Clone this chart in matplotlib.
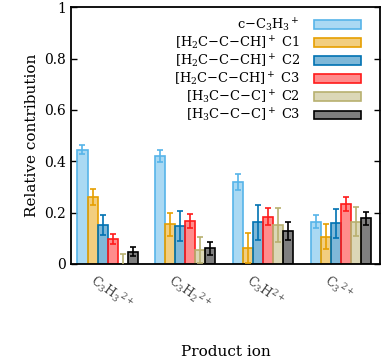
import matplotlib
matplotlib.use("Agg")
import matplotlib.pyplot as plt
import matplotlib.transforms as mtransforms
import numpy as np
from matplotlib.colors import to_rgba

plt.rcParams['font.family'] = ['DejaVu Serif']
plt.rcParams['mathtext.fontset'] = 'dejavuserif'

groups = ["C$_3$H$_3$$^{2+}$", "C$_3$H$_2$$^{2+}$", "C$_3$H$^{2+}$", "C$_3$$^{2+}$"]
series = ["c$-$C$_3$H$_3$$^+$",
          "[H$_2$C$-$C$-$CH]$^+$ C1",
          "[H$_2$C$-$C$-$CH]$^+$ C2",
          "[H$_2$C$-$C$-$CH]$^+$ C3",
          "[H$_3$C$-$C$-$C]$^+$ C2",
          "[H$_3$C$-$C$-$C]$^+$ C3"]
colors = ["#56b4e9", "#e69f00", "#0072b2", "#ff1a1a", "#b8b070", "#000000"]

c_C3H3 = [0.445, 0.420, 0.320, 0.165]
H2CCCH_C1 = [0.260, 0.154, 0.061, 0.106]
H2CCCH_C2 = [0.152, 0.148, 0.162, 0.158]
H2CCCH_C3 = [0.097, 0.167, 0.184, 0.233]
H3CCC_C2 = [0.000, 0.054, 0.150, 0.165]
H3CCC_C3 = [0.048, 0.061, 0.128, 0.178]

c_C3H3_err = [0.017, 0.025, 0.031, 0.025]
H2CCCH_C1_err = [0.030, 0.046, 0.058, 0.048]
H2CCCH_C2_err = [0.040, 0.057, 0.068, 0.057]
H2CCCH_C3_err = [0.020, 0.027, 0.033, 0.027]
H3CCC_C2_err = [0.040, 0.052, 0.066, 0.055]
H3CCC_C3_err = [0.019, 0.025, 0.034, 0.026]

values = [c_C3H3, H2CCCH_C1, H2CCCH_C2, H2CCCH_C3, H3CCC_C2, H3CCC_C3]
errors = [c_C3H3_err, H2CCCH_C1_err, H2CCCH_C2_err, H2CCCH_C3_err, H3CCC_C2_err, H3CCC_C3_err]

fig = plt.figure(figsize=(3.86, 3.59), dpi=100)
ax = fig.add_axes([0.184, 0.265, 0.800, 0.715])

x = np.arange(len(groups))
w = 0.129
for j, (vals, errs, col) in enumerate(zip(values, errors, colors)):
    pos = x + (j - 2.5) * w
    ax.bar(pos, vals, width=w, facecolor=to_rgba(col, 0.5), edgecolor=col,
           linewidth=1.2, label=series[j], zorder=2)
    ax.errorbar(pos, vals, yerr=errs, fmt='none', ecolor=col, elinewidth=1.2,
                capsize=2.5, capthick=1.2, zorder=3)

ax.set_xlim(-0.47, 3.5)
ax.set_ylim(0, 1)
ax.set_yticks([0, 0.2, 0.4, 0.6, 0.8, 1])
ax.set_yticklabels(["0", "0.2", "0.4", "0.6", "0.8", "1"])
ax.tick_params(axis='y', direction='in', right=True, length=4, width=1, labelsize=10)
ax.set_xticks(x)
ax.set_xticklabels(groups, rotation=-35, ha='left', va='top',
                   rotation_mode='anchor', fontsize=9, color='#444444')
ax.tick_params(axis='x', length=0, pad=5)
offset = mtransforms.ScaledTranslation(-10 / 100, 0, fig.dpi_scale_trans)
for lab in ax.get_xticklabels():
    lab.set_transform(lab.get_transform() + offset)

for s in ax.spines.values():
    s.set_linewidth(1.3)

ax.set_ylabel("Relative contribution", fontsize=11)
ax.set_xlabel("Product ion", fontsize=11)
ax.xaxis.set_label_coords(0.5, -0.342)
ax.xaxis.label.set_va('center')

leg = ax.legend(loc='upper right', frameon=False, markerfirst=False,
                fontsize=9.4, handlelength=3.6, handleheight=0.65,
                labelspacing=0.05, borderaxespad=0.3, handletextpad=1.1,
                bbox_to_anchor=(0.97, 1.0))
for t in leg.get_texts():
    t.set_ha('right')

fig.savefig("out.png", dpi=100)
